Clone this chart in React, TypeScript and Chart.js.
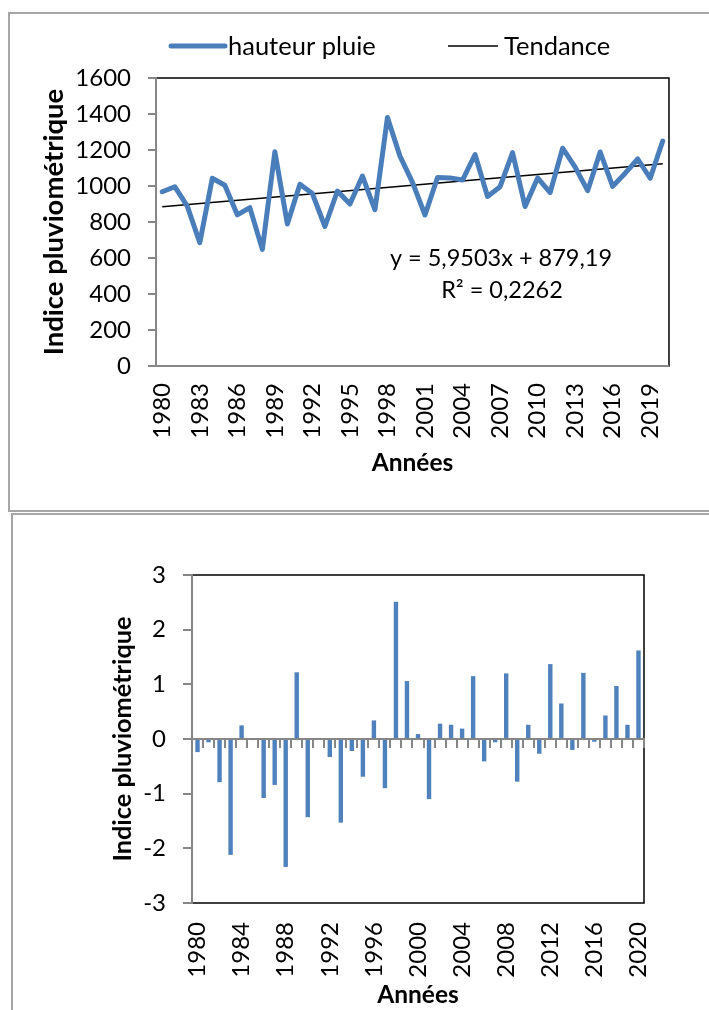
import React, { useEffect, useRef } from 'react';
import { Chart, registerables } from 'chart.js';

Chart.register(...registerables);

// ---------- data ----------
const years = [
  '1980', '1981', '1982', '1983', '1984', '1985', '1986', '1987', '1988', '1989',
  '1990', '1991', '1992', '1993', '1994', '1995', '1996', '1997', '1998', '1999',
  '2000', '2001', '2002', '2003', '2004', '2005', '2006', '2007', '2008', '2009',
  '2010', '2011', '2012', '2013', '2014', '2015', '2016', '2017', '2018', '2019',
  '2020',
];

const rainfall = [
  968, 996, 888, 685, 1043, 1004, 840, 880, 648, 1190,
  789, 1010, 958, 775, 972, 900, 1055, 868, 1381, 1166,
  1020, 839, 1047, 1045, 1033, 1175, 942, 996, 1185, 886,
  1045, 963, 1210, 1105, 974, 1189, 998, 1071, 1150, 1043,
  1250,
];

const trendPoints = [
  { x: '1980', y: 885.1 },
  { x: '2020', y: 1123.2 },
];

const topTickLabels = [
  '1980', '1983', '1986', '1989', '1992', '1995', '1998',
  '2001', '2004', '2007', '2010', '2013', '2016', '2019',
];

const standardizedIndex = [
  -0.24, -0.06, -0.79, -2.12, 0.25, -0.02, -1.08, -0.84, -2.34, 1.22,
  -1.43, 0.02, -0.33, -1.53, -0.22, -0.69, 0.34, -0.9, 2.51, 1.06,
  0.09, -1.1, 0.28, 0.26, 0.19, 1.15, -0.41, -0.06, 1.2, -0.78,
  0.26, -0.27, 1.37, 0.65, -0.2, 1.21, -0.05, 0.43, 0.97, 0.26,
  1.62,
];

const bottomTickLabels = [
  '1980', '1984', '1988', '1992', '1996', '2000', '2004', '2008', '2012', '2016', '2020',
];

const equationLines = ['y = 5,9503x + 879,19', 'R² = 0,2262'];

// ---------- styles ----------
const FONT = 'Lato';
const TICK_SIZE = 24;
const BLUE_LINE = '#4A7EBB';
const BLUE_BAR = '#4F81BD';
const AXIS_GRAY = '#868686';

const plotFrame = {
  id: 'plotFrame',
  beforeDraw(chart: any) {
    const { ctx, chartArea } = chart;
    ctx.save();
    ctx.strokeStyle = '#000';
    ctx.lineWidth = 1.5;
    ctx.strokeRect(chartArea.left, chartArea.top, chartArea.right - chartArea.left, chartArea.bottom - chartArea.top);
    ctx.restore();
  },
};

const topLegend = {
  id: 'topLegend',
  afterDraw(chart: any) {
    const { ctx } = chart;
    const ds = chart.data.datasets;
    const items = [
      { x0: 171, x1: 225, tx: 228 },
      { x0: 448, x1: 498, tx: 504 },
    ];
    const y = 46;
    ctx.save();
    ctx.font = `25.5px ${FONT}`;
    ctx.textBaseline = 'middle';
    ctx.textAlign = 'left';
    items.forEach((it, i) => {
      ctx.beginPath();
      ctx.strokeStyle = ds[i].borderColor;
      ctx.lineWidth = ds[i].borderWidth;
      ctx.lineCap = i === 0 ? 'round' : 'butt';
      ctx.moveTo(it.x0, y);
      ctx.lineTo(it.x1, y);
      ctx.stroke();
      ctx.fillStyle = '#000';
      ctx.fillText(ds[i].label, it.tx, y + 1);
    });
    ctx.restore();
  },
};

const equationLabel = {
  id: 'equationLabel',
  afterDraw(chart: any) {
    const { ctx } = chart;
    ctx.save();
    ctx.font = `23.5px ${FONT}`;
    ctx.fillStyle = '#000';
    ctx.textAlign = 'center';
    ctx.textBaseline = 'middle';
    ctx.fillText(equationLines[0], 501, 258);
    ctx.fillText(equationLines[1], 502, 290);
    ctx.restore();
  },
};

function TopChart() {
  const ref = useRef<HTMLCanvasElement>(null);
  useEffect(() => {
    if (!ref.current) return;
    const chart = new Chart(ref.current, {
      type: 'line',
      data: {
        labels: years,
        datasets: [
          {
            label: 'hauteur pluie',
            data: rainfall,
            borderColor: BLUE_LINE,
            backgroundColor: BLUE_LINE,
            borderWidth: 5,
            pointRadius: 0,
            borderJoinStyle: 'round',
            borderCapStyle: 'round',
            tension: 0,
          },
          {
            label: 'Tendance',
            data: trendPoints as any,
            borderColor: '#000',
            backgroundColor: '#000',
            borderWidth: 1.5,
            pointRadius: 0,
            tension: 0,
          },
        ],
      },
      options: {
        animation: false,
        responsive: false,
        events: [],
        layout: { padding: { top: 78, right: 39, bottom: 0, left: 0 } },
        plugins: {
          legend: { display: false },
          tooltip: { enabled: false },
        },
        scales: {
          x: {
            type: 'category',
            offset: true,
            grid: { display: false, drawTicks: false },
            border: { display: true, color: AXIS_GRAY, width: 2 },
            ticks: {
              autoSkip: false,
              minRotation: 90,
              maxRotation: 90,
              padding: 17,
              color: '#000',
              font: { family: FONT, size: TICK_SIZE },
              callback: (_v: any, i: number) => (topTickLabels.includes(years[i]) ? years[i] : ''),
            },
            title: {
              display: true,
              text: 'Années',
              color: '#000',
              font: { family: FONT, size: 24.5, weight: 'bold' },
              padding: { top: 0, bottom: 33 },
            },
            afterFit: (s: any) => { s.height = 145; },
          },
          y: {
            min: 0,
            max: 1600,
            ticks: {
              stepSize: 200,
              padding: 17,
              color: '#000',
              font: { family: FONT, size: TICK_SIZE },
              callback: (v: any) => String(v),
            },
            grid: { drawOnChartArea: false, tickLength: 8, color: AXIS_GRAY, lineWidth: 2 },
            border: { display: true, color: AXIS_GRAY, width: 2 },
            title: {
              display: true,
              text: 'Indice pluviométrique',
              color: '#000',
              font: { family: FONT, size: 27.5, weight: 'bold' },
              padding: { top: 38, bottom: 0 },
            },
            afterFit: (s: any) => { s.width = 156; },
          },
        },
      } as any,
      plugins: [plotFrame, topLegend, equationLabel],
    });
    return () => chart.destroy();
  }, []);
  return (
    <canvas
      ref={ref}
      width={709}
      height={511}
      style={{ position: 'absolute', left: 0, top: 0, width: 709, height: 511 }}
    />
  );
}

function BottomChart() {
  const ref = useRef<HTMLCanvasElement>(null);
  useEffect(() => {
    if (!ref.current) return;
    const chart = new Chart(ref.current, {
      type: 'bar',
      data: {
        labels: years,
        datasets: [
          {
            label: 'Indice pluviométrique',
            data: standardizedIndex,
            backgroundColor: BLUE_BAR,
            categoryPercentage: 1,
            barPercentage: 0.4,
            xAxisID: 'x',
            yAxisID: 'y',
          },
        ],
      },
      options: {
        animation: false,
        responsive: false,
        events: [],
        layout: { padding: { top: 62, right: 65, bottom: 0, left: 0 } },
        plugins: {
          legend: { display: false },
          tooltip: { enabled: false },
        },
        scales: {
          x: {
            type: 'category',
            position: 'bottom',
            offset: true,
            grid: { display: false, drawTicks: false },
            border: { display: false },
            ticks: {
              autoSkip: false,
              minRotation: 90,
              maxRotation: 90,
              padding: 19,
              color: '#000',
              font: { family: FONT, size: TICK_SIZE },
              callback: (_v: any, i: number) => (bottomTickLabels.includes(years[i]) ? years[i] : ''),
            },
            title: {
              display: true,
              text: 'Années',
              color: '#000',
              font: { family: FONT, size: 24.5, weight: 'bold' },
              padding: { top: 0, bottom: 0 },
            },
            afterFit: (s: any) => { s.height = 107; },
          },
          x2: {
            type: 'category',
            axis: 'x',
            position: { y: 0 },
            offset: true,
            ticks: { display: false },
            grid: { offset: true, drawOnChartArea: false, tickLength: 8, color: AXIS_GRAY, lineWidth: 2, z: 1 },
            border: { display: true, color: AXIS_GRAY, width: 2, z: 1 },
          },
          y: {
            min: -3,
            max: 3,
            ticks: {
              stepSize: 1,
              padding: 17,
              color: '#000',
              font: { family: FONT, size: TICK_SIZE },
              callback: (v: any) => String(v),
            },
            grid: { drawOnChartArea: false, tickLength: 9, color: AXIS_GRAY, lineWidth: 2 },
            border: { display: true, color: AXIS_GRAY, width: 2 },
            title: {
              display: true,
              text: 'Indice pluviométrique',
              color: '#000',
              font: { family: FONT, size: 25.3, weight: 'bold' },
              padding: { top: 108, bottom: 0 },
            },
            afterFit: (s: any) => { s.width = 192; },
          },
        },
      } as any,
      plugins: [plotFrame],
    });
    return () => chart.destroy();
  }, []);
  return (
    <canvas
      ref={ref}
      width={709}
      height={497}
      style={{ position: 'absolute', left: 0, top: 513, width: 709, height: 497 }}
    />
  );
}

export default function App() {
  return (
    <div
      style={{
        position: 'absolute',
        left: 0,
        top: 0,
        width: 709,
        height: 1010,
        overflow: 'hidden',
        background: '#fff',
      }}
    >
      <div
        style={{
          position: 'absolute',
          left: 8,
          top: 12,
          width: 720,
          height: 500,
          border: '2px solid #a6a6a6',
          boxSizing: 'border-box',
        }}
      />
      <div
        style={{
          position: 'absolute',
          left: 11,
          top: 513,
          width: 720,
          height: 520,
          border: '2px solid #a6a6a6',
          boxSizing: 'border-box',
        }}
      />
      <TopChart />
      <BottomChart />
    </div>
  );
}
